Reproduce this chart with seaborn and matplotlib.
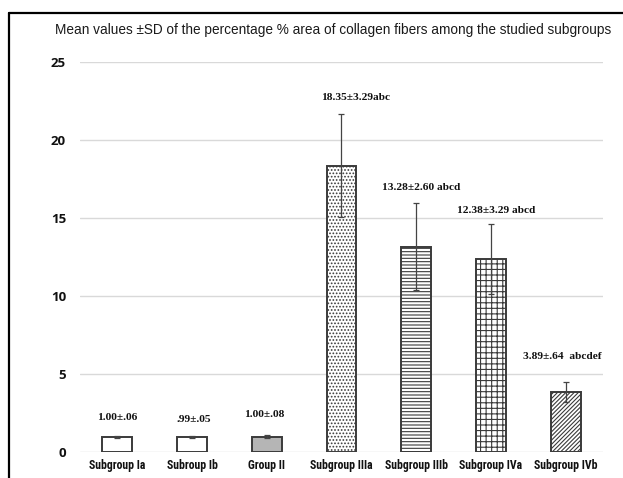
import matplotlib
matplotlib.use("Agg")
import matplotlib.pyplot as plt
from matplotlib.lines import Line2D
from matplotlib import font_manager
import seaborn as sns
import pandas as pd

categories = ["Subgroup Ia", "Subroup Ib", "Group II", "Subgroup IIIa",
              "Subgroup IIIb", "Subgroup IVa", "Subgroup IVb"]
means = [1.00, 0.99, 1.00, 18.35, 13.15, 12.38, 3.89]
errors = [0.06, 0.05, 0.08, 3.29, 2.78, 2.25, 0.64]
labels = ["1.00±.06", ".99±.05", "1.00±.08", "18.35±3.29abc",
          "13.28±2.60 abcd", "12.38±3.29 abcd", "3.89±.64  abcdef"]
label_y = [2.2, 2.07, 2.39, 22.7, 16.94, 15.45, 6.12]
label_dx = [0.0, 0.02, -0.03, 0.19, 0.07, 0.07, -0.05]
yticks = [0, 5, 10, 15, 20, 25]

fills = ["#ffffff", "#ffffff", "#b5b5b5", "#ffffff", "#ffffff", "#ffffff", "#ffffff"]
hatches = [None, None, None, ".....", "-----", "+++", "////////"]

sns.set_style("white")
plt.rcParams["hatch.linewidth"] = 0.8

installed = {f.name for f in font_manager.fontManager.ttflist}
cond = [n for n in ["Liberation Sans Narrow", "Roboto Condensed", "Open Sans Condensed"] if n in installed]
if cond:
    xfam, xsize = [cond[0], "DejaVu Sans"], 8.5
else:
    xfam, xsize = ["Roboto", "Liberation Sans", "DejaVu Sans"], 7.6

df = pd.DataFrame({"cat": categories, "val": means})

fig = plt.figure(figsize=(6.23, 4.78), dpi=100)
ax = fig.add_axes([80 / 623, 1 - 452.3 / 478, 523 / 623, 390.6 / 478])

sns.barplot(data=df, x="cat", y="val", hue="cat", palette=fills, width=0.4,
            legend=False, errorbar=None, ax=ax, zorder=3)
for i, p in enumerate(ax.patches[:len(categories)]):
    p.set_edgecolor("#3a3a3a")
    p.set_linewidth(1.4)
    if hatches[i]:
        p.set_hatch(hatches[i])

ax.errorbar(range(len(categories)), means, yerr=errors, fmt="none",
            ecolor="#444444", elinewidth=0.9, capsize=2.5, capthick=0.9, zorder=4)

for i, t in enumerate(labels):
    ax.text(i + label_dx[i], label_y[i], t, ha="center", va="center",
            family=["Liberation Serif", "DejaVu Serif"], fontweight="bold",
            fontsize=8.2, color="#111111")

ax.set_xlim(-0.5, 6.5)
ax.set_ylim(0, 25)
ax.set_yticks(yticks)
ax.set_yticklabels([str(v) for v in yticks], family=["Open Sans", "DejaVu Sans"],
                   fontweight="bold", fontsize=9.5)
ax.set_xticks(range(len(categories)))
ax.set_xticklabels(categories, family=xfam, fontweight="bold", fontsize=xsize)
ax.tick_params(axis="both", length=0, colors="#111111")
ax.tick_params(axis="y", pad=10)
ax.tick_params(axis="x", pad=5)
ax.set_xlabel("")
ax.set_ylabel("")
ax.yaxis.grid(True, color="#d9d9d9", linewidth=1.0, zorder=0)
ax.set_axisbelow(True)
for s in ax.spines.values():
    s.set_visible(False)

fig.text(333 / 623, 1 - 30 / 478,
         "Mean values ±SD of the percentage % area of collagen fibers among the studied subgroups",
         ha="center", va="center", family=["Liberation Sans", "DejaVu Sans"],
         fontsize=9.8, color="#1a1a1a")

fig.add_artist(Line2D([9 / 623, 9 / 623], [0, 1 - 13 / 478], transform=fig.transFigure,
                      color="black", linewidth=1.6))
fig.add_artist(Line2D([9 / 623, 1], [1 - 13 / 478, 1 - 13 / 478], transform=fig.transFigure,
                      color="black", linewidth=1.6))

fig.savefig("out.png", dpi=100)
